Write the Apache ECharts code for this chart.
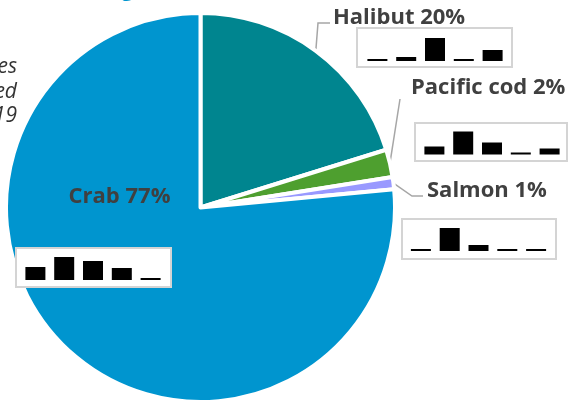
<!DOCTYPE html>
<html><head><meta charset="utf-8">
<script src="https://cdn.jsdelivr.net/npm/echarts@6/dist/echarts.min.js"></script>
<style>html,body{margin:0;padding:0;background:#fff;overflow:hidden}#c{width:568px;height:402px}</style>
</head><body><div id="c"></div><script>
// ---- data ----
const species = ['Halibut', 'Pacific cod', 'Salmon', 'Crab'];
const sharePct = [20.2, 2.3, 1.0, 76.5];
const yearLabels = ['2015', '2016', '2017', '2018', '2019'];
const halibutTrend = [0, 4, 23, 0, 11];
const codTrend = [8, 23, 12, 0, 6];
const salmonTrend = [0, 23, 6, 0, 0];
const crabTrend = [13, 23, 19, 12, 0];
const noteLines = ['Share of ex-vessel values', 'of species harvested', '2015\u20132019'];
const titleText = 'Commercial fishing';

// ---- styles / layout ----
const sliceColors = ['#00858F', '#4E9F2F', '#9999FF', '#0095CF'];
const labelFont = '"Open Sans"';
const trends = [halibutTrend, codTrend, salmonTrend, crabTrend];
// sparkline boxes: frame rect and inner plot area (per species)
const sparkLayout = [
  {box: [357, 28, 155, 39], plot: [363, 38, 144, 23]},
  {box: [415, 123, 152, 38], plot: [420, 131.5, 144, 23]},
  {box: [402, 219, 154, 40], plot: [406.5, 228, 144, 23]},
  {box: [16, 248, 155, 39], plot: [21, 257, 144, 23]}
];
const labelPlace = [
  {x: 333, y: 17.5, pts: [[318, 23], [330, 23]]},
  {x: 411, y: 88, pts: [[400, 99], [400, 99]]},
  {x: 427, y: 190.5, pts: [[412, 196], [423, 196]]},
  {x: 119.5, y: 196.5, align: 'center'}
];

const chart = echarts.init(document.getElementById('c'), null, {renderer: 'canvas'});

const pieData = species.map((s, i) => {
  const d = {name: s, value: sharePct[i], itemStyle: {color: sliceColors[i]}};
  if (s === 'Crab') { d.label = {position: 'inside'}; d.labelLine = {show: false}; }
  return d;
});

const graphics = [];
sparkLayout.forEach(l => {
  graphics.push({type: 'rect', z: 10, silent: true,
    shape: {x: l.box[0], y: l.box[1], width: l.box[2], height: l.box[3]},
    style: {fill: '#fff', stroke: '#D4D4D4', lineWidth: 2}});
});
noteLines.forEach((t, i) => {
  graphics.push({type: 'text', z: 10, silent: true,
    style: {text: t, x: 17, y: 67.5 + i * 24.5, align: 'right', verticalAlign: 'middle',
      font: 'italic 21px ' + labelFont, fill: '#333333'}});
});
graphics.push({type: 'text', z: 10, silent: true,
  style: {text: titleText, x: 134, y: -10, align: 'right', verticalAlign: 'middle',
    font: 'bold 22px ' + labelFont, fill: '#0095CF'}});

const option = {
  animation: false,
  graphic: graphics,
  grid: sparkLayout.map(l => ({left: l.plot[0], top: l.plot[1], width: l.plot[2], height: l.plot[3], show: false})),
  xAxis: sparkLayout.map((l, i) => ({type: 'category', gridIndex: i, data: yearLabels, show: false})),
  yAxis: sparkLayout.map((l, i) => ({type: 'value', gridIndex: i, show: false, min: 0, max: 'dataMax', splitLine: {show: false}})),
  series: [
    {
      type: 'pie', z: 1,
      center: [200.5, 207.5], radius: 194.5,
      startAngle: 90, clockwise: true,
      avoidLabelOverlap: false,
      percentPrecision: 0,
      itemStyle: {borderColor: '#fff', borderWidth: 4},
      label: {formatter: '{b} {d}%', fontFamily: 'Open Sans', fontSize: 22, fontWeight: 'bold', color: '#404040'},
      labelLine: {show: true, lineStyle: {color: '#A6A6A6', width: 1.5}},
      labelLayout: function (p) {
        const c = labelPlace[p.dataIndex];
        const r = {x: c.x, y: c.y, align: c.align || 'left', verticalAlign: 'middle'};
        if (c.pts && p.labelLinePoints) r.labelLinePoints = [p.labelLinePoints[0]].concat(c.pts);
        return r;
      },
      emphasis: {disabled: true},
      data: pieData
    }
  ].concat(trends.map((t, i) => ({
    type: 'bar', xAxisIndex: i, yAxisIndex: i, z: 20, silent: true,
    barWidth: 20, barMinHeight: 2,
    itemStyle: {color: '#000'},
    data: t
  })))
};
chart.setOption(option);
</script></body></html>
